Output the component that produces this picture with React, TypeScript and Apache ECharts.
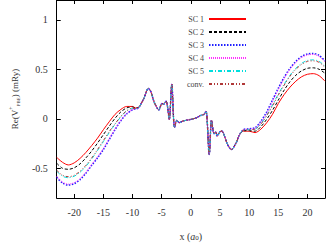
import { useEffect, useRef } from "react";
import * as echarts from "echarts";

// x positions (a0)
const xLeft = [-23, -22, -21, -20, -19, -18, -17, -16, -15, -14, -13, -12, -11, -10, -9.5, -9, -8.5];
const xCore = [-8, -7.6, -7.3, -6.9, -6.3, -5.77, -5.5, -4.95, -4.7, -4.25, -4.0, -3.7, -3.27, -2.8, -2.4, -1.97, -1.4, -0.1, 1.0, 1.5, 2.25, 2.6, 3.15, 3.55, 3.97, 4.25, 4.5, 4.95, 5.3, 5.6, 6.3, 6.95, 7.75];
const xRight = [8.3, 9, 10, 11, 12, 13, 14, 15, 16, 17, 18, 19, 20, 21, 22, 23];

// central region, common to all curves
const yCore = [0.215, 0.28, 0.307, 0.28, 0.17, 0.107, 0.09, 0.155, 0.146, 0.178, 0.123, -0.007, 0.35, -0.087, -0.016, -0.039, -0.023, -0.007, 0.01, 0.03, 0.045, 0.078, -0.36, -0.013, -0.15, -0.133, -0.175, -0.133, -0.123, -0.15, -0.26, -0.31, -0.245];

const sc1Left = [-0.39, -0.44, -0.466, -0.445, -0.4, -0.34, -0.27, -0.195, -0.11, -0.03, 0.045, 0.095, 0.125, 0.125, 0.11, 0.115, 0.155];
const sc2Left = [-0.45, -0.5, -0.51, -0.495, -0.455, -0.395, -0.325, -0.245, -0.16, -0.075, 0.005, 0.07, 0.11, 0.12, 0.108, 0.113, 0.155];
const sc3Left = [-0.59, -0.65, -0.67, -0.655, -0.615, -0.55, -0.47, -0.395, -0.31, -0.21, -0.11, -0.02, 0.05, 0.09, 0.1, 0.108, 0.155];
const sc4Left = [-0.58, -0.64, -0.66, -0.645, -0.605, -0.54, -0.46, -0.385, -0.3, -0.2, -0.1, -0.015, 0.055, 0.092, 0.1, 0.108, 0.155];
const sc5Left = [-0.53, -0.58, -0.595, -0.58, -0.54, -0.48, -0.405, -0.32, -0.23, -0.14, -0.055, 0.02, 0.08, 0.105, 0.104, 0.11, 0.155];
const convLeft = [-0.52, -0.57, -0.585, -0.57, -0.53, -0.47, -0.395, -0.31, -0.22, -0.13, -0.05, 0.025, 0.082, 0.106, 0.104, 0.11, 0.155];

const sc1Right = [-0.165, -0.125, -0.125, -0.14, -0.105, -0.04, 0.045, 0.155, 0.245, 0.32, 0.38, 0.425, 0.45, 0.456, 0.435, 0.38];
const sc2Right = [-0.165, -0.12, -0.12, -0.125, -0.08, -0.005, 0.085, 0.19, 0.29, 0.375, 0.44, 0.485, 0.51, 0.515, 0.5, 0.46];
const sc3Right = [-0.165, -0.11, -0.1, -0.09, -0.025, 0.07, 0.19, 0.31, 0.42, 0.51, 0.58, 0.63, 0.655, 0.66, 0.64, 0.585];
const sc4Right = [-0.165, -0.11, -0.105, -0.095, -0.035, 0.055, 0.175, 0.295, 0.405, 0.5, 0.57, 0.62, 0.645, 0.65, 0.63, 0.575];
const sc5Right = [-0.165, -0.115, -0.11, -0.105, -0.05, 0.035, 0.14, 0.25, 0.35, 0.44, 0.51, 0.56, 0.59, 0.595, 0.58, 0.53];
const convRight = [-0.165, -0.115, -0.11, -0.105, -0.055, 0.03, 0.13, 0.24, 0.34, 0.43, 0.5, 0.55, 0.58, 0.585, 0.57, 0.52];

const seriesNames = ["SC 1", "SC 2", "SC 3", "SC 4", "SC 5", "conv."];
const xTicks = [-20, -15, -10, -5, 0, 5, 10, 15, 20];
const yTicks = [-0.5, 0, 0.5, 1];

const FONT = "'Liberation Serif', 'DejaVu Serif', serif";

function build(left: number[], right: number[]) {
  const xs = [...xLeft, ...xCore, ...xRight];
  const ys = [...left, ...yCore, ...right];
  return xs.map((x, i) => [x, ys[i]]);
}

const seriesData = [
  build(sc1Left, sc1Right),
  build(sc2Left, sc2Right),
  build(sc3Left, sc3Right),
  build(sc4Left, sc4Right),
  build(sc5Left, sc5Right),
  build(convLeft, convRight),
];

const lineStyles: any[] = [
  { color: "#ff0000", type: "solid", width: 1 },
  { color: "#000000", type: [3, 2], width: 1 },
  { color: "#2020ff", type: [1.5, 1.5], width: 1.5 },
  { color: "#ff30ff", type: [1, 1], width: 1 },
  { color: "#00dede", type: [4, 2, 1, 2], width: 1 },
  { color: "#b03838", type: [3, 2, 1, 2, 1, 2], width: 1 },
];

export default function App() {
  const ref = useRef<HTMLDivElement>(null);
  useEffect(() => {
    if (!ref.current) return;
    const chart = echarts.init(ref.current, undefined, { renderer: "svg" });
    const axisCommon = {
      axisLine: { onZero: false, lineStyle: { color: "#000", width: 1 } },
      splitLine: { show: false },
    };
    chart.setOption({
      animation: false,
      backgroundColor: "#fff",
      grid: { left: 42, right: 1, top: 0, bottom: 40 },
      legend: {
        orient: "vertical",
        right: 74,
        top: 10,
        align: "right",
        itemWidth: 37,
        itemHeight: 8,
        itemGap: 5,
        itemStyle: { opacity: 0, borderWidth: 0 },
        textStyle: { fontFamily: FONT, fontSize: 8, color: "#444" },
        data: seriesNames,
      },
      xAxis: [
        {
          type: "value",
          min: -23,
          max: 23,
          position: "bottom",
          ...axisCommon,
          axisTick: { inside: true, length: 4, customValues: xTicks, lineStyle: { color: "#000" } },
          axisLabel: { customValues: xTicks, fontFamily: FONT, fontSize: 10, color: "#333", margin: 9 },
          name: "{n|x (}{i|a}{s|0}{n|)}",
          nameLocation: "middle",
          nameGap: 33,
          nameTextStyle: {
            rich: {
              n: { fontFamily: FONT, fontSize: 10, color: "#333" },
              i: { fontFamily: FONT, fontSize: 10, fontStyle: "italic", color: "#333" },
              s: { fontFamily: FONT, fontSize: 7, color: "#333", verticalAlign: "bottom" },
            },
          },
        },
        {
          type: "value",
          min: -23,
          max: 23,
          position: "top",
          ...axisCommon,
          axisTick: { inside: true, length: 4, customValues: xTicks, lineStyle: { color: "#000" } },
          axisLabel: { show: false },
        },
      ],
      yAxis: [
        {
          type: "value",
          min: -0.8,
          max: 1.2,
          position: "left",
          ...axisCommon,
          axisTick: { inside: true, length: 4, customValues: yTicks, lineStyle: { color: "#000" } },
          axisLabel: {
            customValues: yTicks,
            fontFamily: FONT,
            fontSize: 10,
            color: "#333",
            margin: 9,
            formatter: (v: number) => String(v),
          },
          name: "{n|Re(V}{p|+}{s|PBE}{n|) (mRy)}",
          nameLocation: "middle",
          nameRotate: 90,
          nameGap: 29,
          nameTextStyle: {
            rich: {
              n: { fontFamily: FONT, fontSize: 9, color: "#333", lineHeight: 13 },
              p: { fontFamily: FONT, fontSize: 6, color: "#333", verticalAlign: "top" },
              s: { fontFamily: FONT, fontSize: 5, color: "#333", verticalAlign: "bottom" },
            },
          },
        },
        {
          type: "value",
          min: -0.8,
          max: 1.2,
          position: "right",
          ...axisCommon,
          axisTick: { inside: true, length: 4, customValues: yTicks, lineStyle: { color: "#000" } },
          axisLabel: { show: false },
        },
      ],
      series: seriesNames.map((name, i) => ({
        name,
        type: "line",
        xAxisIndex: 0,
        yAxisIndex: 0,
        data: seriesData[i],
        symbol: "none",
        smooth: 0.3,
        lineStyle: lineStyles[i],
        itemStyle: { color: lineStyles[i].color },
        z: 2 + i,
      })),
    });
    return () => chart.dispose();
  }, []);
  return (
    <div
      ref={ref}
      style={{ position: "absolute", left: 0, top: 0, width: 326, height: 246 }}
    />
  );
}
